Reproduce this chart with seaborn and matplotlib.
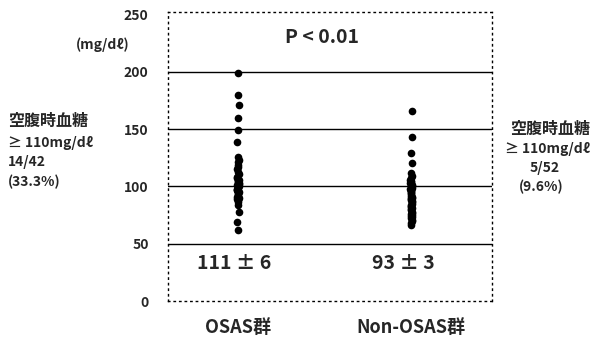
import matplotlib
matplotlib.use("Agg")
import matplotlib.pyplot as plt
import seaborn as sns
import pandas as pd

# ---- data ----
groups = ["OSAS群", "Non-OSAS群"]
osas_values = [199, 180, 171, 160, 149, 139,
               126, 123, 121, 119, 117, 115, 113, 111,
               108, 107, 106, 105, 104, 103, 102, 101, 100, 100, 99, 98, 97, 97,
               96, 95, 94, 93, 92, 91, 90, 89, 88, 86, 84, 78, 69, 62]
non_osas_values = [166, 143, 129, 120, 112,
                   109, 107, 106, 105, 104, 103, 102, 101, 100, 99, 98, 97, 96, 95,
                   94, 93, 92, 91, 90, 90, 89, 88, 87, 86, 85, 84, 83, 82, 81, 80,
                   79, 78, 77, 76, 75, 74, 73, 72, 71, 70, 68, 66]
yticks = [0, 50, 100, 150, 200, 250]
gridlines = [50, 100, 150, 200]
mean_labels = ["111 ± 6", "93 ± 3"]
p_label = "P < 0.01"
unit_label = "(mg/dℓ)"
left_note = ["空腹時血糖", "≥ 110mg/dℓ", "14/42", "(33.3%)"]
right_note = ["空腹時血糖", "≥ 110mg/dℓ", "5/52", "(9.6%)"]

df = pd.DataFrame({
    "group": [groups[0]] * len(osas_values) + [groups[1]] * len(non_osas_values),
    "value": osas_values + non_osas_values,
})

sns.set_theme(style="white")
plt.rcParams["font.family"] = ["Noto Sans CJK JP", "DejaVu Sans"]

fig = plt.figure(figsize=(5.96, 3.48), dpi=100)
ax = fig.add_axes([0.282, 0.135, 0.544, 0.830])

for g in gridlines:
    ax.axhline(g, color="black", lw=1.0, zorder=1)

sns.stripplot(data=df, x="group", y="value", order=groups, color="black",
              jitter=0.006, size=5.5, ax=ax, zorder=3)

ax.set_xlim(-0.405, 1.468)
ax.set_ylim(0, 252)
ax.set_yticks(yticks)
ax.set_yticklabels([str(t) for t in yticks], fontsize=10, fontweight="bold")
ax.tick_params(axis="y", length=0, pad=14)
ax.tick_params(axis="x", length=0, pad=12)
for lbl in ax.get_xticklabels():
    lbl.set_fontsize(13)
    lbl.set_fontweight("bold")
ax.set_xlabel("")
ax.set_ylabel("")

for sp in ax.spines.values():
    sp.set_visible(True)
    sp.set_color("black")
    sp.set_linewidth(1.0)
    sp.set_linestyle((0, (1, 3)))

# texts inside axes
ax.text(0.475, 0.913, p_label, transform=ax.transAxes, ha="center", va="center",
        fontsize=14, fontweight="bold")
ax.text(0.204, 0.131, mean_labels[0], transform=ax.transAxes, ha="center",
        va="center", fontsize=14, fontweight="bold")
ax.text(0.725, 0.131, mean_labels[1], transform=ax.transAxes, ha="center",
        va="center", fontsize=14, fontweight="bold")

# texts outside axes (figure coords)
fig.text(103 / 596, 1 - 45 / 348, unit_label, ha="center", va="center",
         fontsize=10, fontweight="bold")

left_y = [121, 143, 162, 182]
left_size = [11.5, 10, 10, 10]
for t, y, s in zip(left_note, left_y, left_size):
    fig.text(8 / 596, 1 - y / 348, t, ha="left", va="center",
             fontsize=s, fontweight="bold")

right_y = [129, 149, 168, 187]
right_x = [510, 505, 530, 519]
for t, y, x, s in zip(right_note, right_y, right_x, left_size):
    fig.text(x / 596, 1 - y / 348, t, ha="left", va="center",
             fontsize=s, fontweight="bold")

fig.savefig("out.png", dpi=100, facecolor="white")
